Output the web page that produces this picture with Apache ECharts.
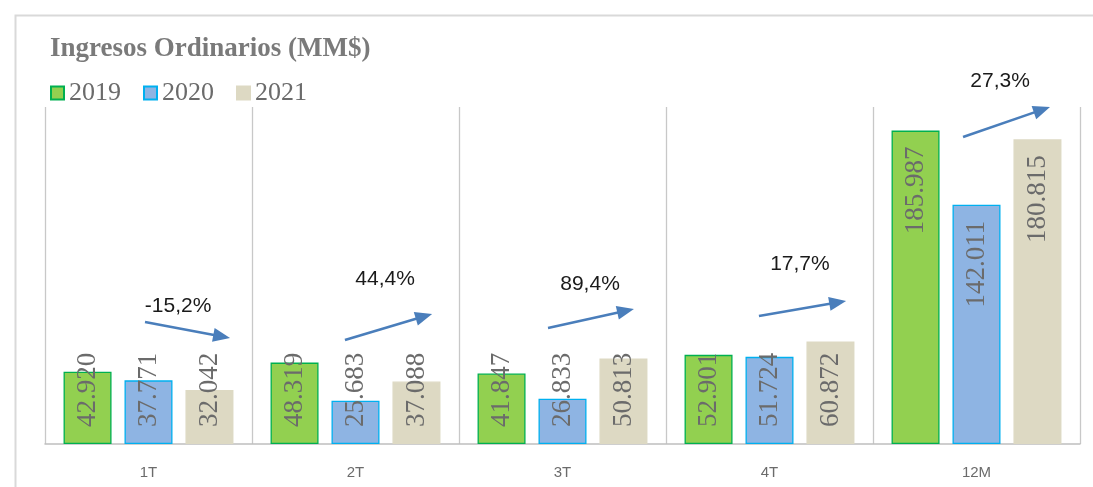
<!DOCTYPE html>
<html>
<head>
<meta charset="utf-8">
<script src="https://cdn.jsdelivr.net/npm/echarts@6/dist/echarts.min.js"></script>
<style>html,body{margin:0;padding:0;background:#fff;}#c{width:1093px;height:487px;}</style>
</head>
<body>
<div id="c"></div>
<script>
var categories = ['1T', '2T', '3T', '4T', '12M'];
var seriesNames = ['2019', '2020', '2021'];
var values2019 = [42.920, 48.319, 41.847, 52.901, 185.987];
var values2020 = [37.771, 25.683, 26.833, 51.724, 142.011];
var values2021 = [32.042, 37.088, 50.813, 60.872, 180.815];
// growth annotations: [x1, y1, x2, y2, labelX, labelY, text] in data space
var arrows = [
  [0.483, 72.4, 0.894, 62.9, 0.643, 82.0, '-15,2%'],
  [1.449, 61.7, 1.870, 77.2, 1.643, 98.0, '44,4%'],
  [2.430, 68.8, 2.845, 80.1, 2.633, 95.0, '89,4%'],
  [3.449, 76.0, 3.870, 84.9, 3.647, 106.8, '17,7%'],
  [4.435, 182.2, 4.855, 200.0, 4.614, 215.4, '27,3%']
];

var chart = echarts.init(document.getElementById('c'));
var labelBase = {
  show: true, position: 'insideBottom', rotate: 90, align: 'left', verticalAlign: 'middle',
  distance: 17, fontFamily: 'Liberation Serif', fontSize: 27, color: '#6b6b6b',
  formatter: function (p) { return p.value.toFixed(3); }
};
function toItems(data) {
  return data.map(function (v) {
    if (v > 100) {
      return { value: v, label: { position: 'insideTop', align: 'right', distance: 16 } };
    }
    return { value: v };
  });
}
function barSeries(name, data, fill, border) {
  return {
    name: name, type: 'bar', data: toItems(data), barWidth: 48, barGap: '27%',
    itemStyle: { color: fill, borderColor: border, borderWidth: 1.3 },
    label: labelBase, emphasis: { disabled: true }
  };
}
chart.setOption({
  animation: false,
  title: {
    text: 'Ingresos Ordinarios (MM$)', left: 45, top: 31,
    textStyle: { fontFamily: 'Liberation Serif', fontWeight: 'bold', fontSize: 27, color: '#7a7a7a' }
  },
  legend: {
    left: 45, top: 75, itemWidth: 13, itemHeight: 13, itemGap: 22,
    icon: 'rect',
    textStyle: { fontFamily: 'Liberation Serif', fontSize: 26, color: '#6b6b6b' },
    data: seriesNames
  },
  grid: { left: 45, right: 13, top: 107, bottom: 43 },
  xAxis: [{
    type: 'category', data: categories,
    axisLine: { lineStyle: { color: '#bfbfbf', width: 1.5 } },
    axisTick: { show: false },
    splitLine: { show: true, lineStyle: { color: '#c8c8c8', width: 1.3 } },
    axisLabel: { fontFamily: 'Liberation Sans', fontSize: 15, color: '#6b6b6b', margin: 21 }
  }, {
    type: 'value', min: 0, max: 5, show: false
  }],
  yAxis: { type: 'value', min: 0, max: 200, show: false },
  series: [
    barSeries('2019', values2019, '#92d050', '#00b050'),
    barSeries('2020', values2020, '#8eb4e3', '#00b0f0'),
    barSeries('2021', values2021, '#ddd9c3', '#ddd9c3'),
    {
      type: 'custom', xAxisIndex: 1, yAxisIndex: 0, data: arrows, silent: true, clip: false,
      encode: { x: [0, 2], y: [1, 3] },
      renderItem: function (params, api) {
        var p1 = api.coord([api.value(0), api.value(1)]);
        var p2 = api.coord([api.value(2), api.value(3)]);
        var pt = api.coord([api.value(4), api.value(5)]);
        var dx = p2[0] - p1[0], dy = p2[1] - p1[1];
        var len = Math.sqrt(dx * dx + dy * dy);
        var ux = dx / len, uy = dy / len;
        var hl = 17, hw = 7;
        var bx = p2[0] - ux * hl, by = p2[1] - uy * hl;
        var col = '#4a7ebb';
        return {
          type: 'group', children: [
            { type: 'line', shape: { x1: p1[0], y1: p1[1], x2: bx + ux * 2, y2: by + uy * 2 },
              style: { stroke: col, lineWidth: 2.5 } },
            { type: 'polygon', shape: { points: [[p2[0], p2[1]], [bx - uy * hw, by + ux * hw], [bx + uy * hw, by - ux * hw]] },
              style: { fill: col } },
            { type: 'text', x: pt[0], y: pt[1],
              style: { text: arrows[params.dataIndex][6], fontFamily: 'Liberation Sans', fontSize: 21,
                fill: '#1a1a1a', align: 'center', verticalAlign: 'middle' } }
          ]
        };
      }
    }
  ],
  graphic: [{
    type: 'rect', left: 13, top: 13, shape: { width: 1100, height: 500 },
    style: { fill: 'none', stroke: '#d9d9d9', lineWidth: 2 }, silent: true
  }]
});
</script>
</body>
</html>
